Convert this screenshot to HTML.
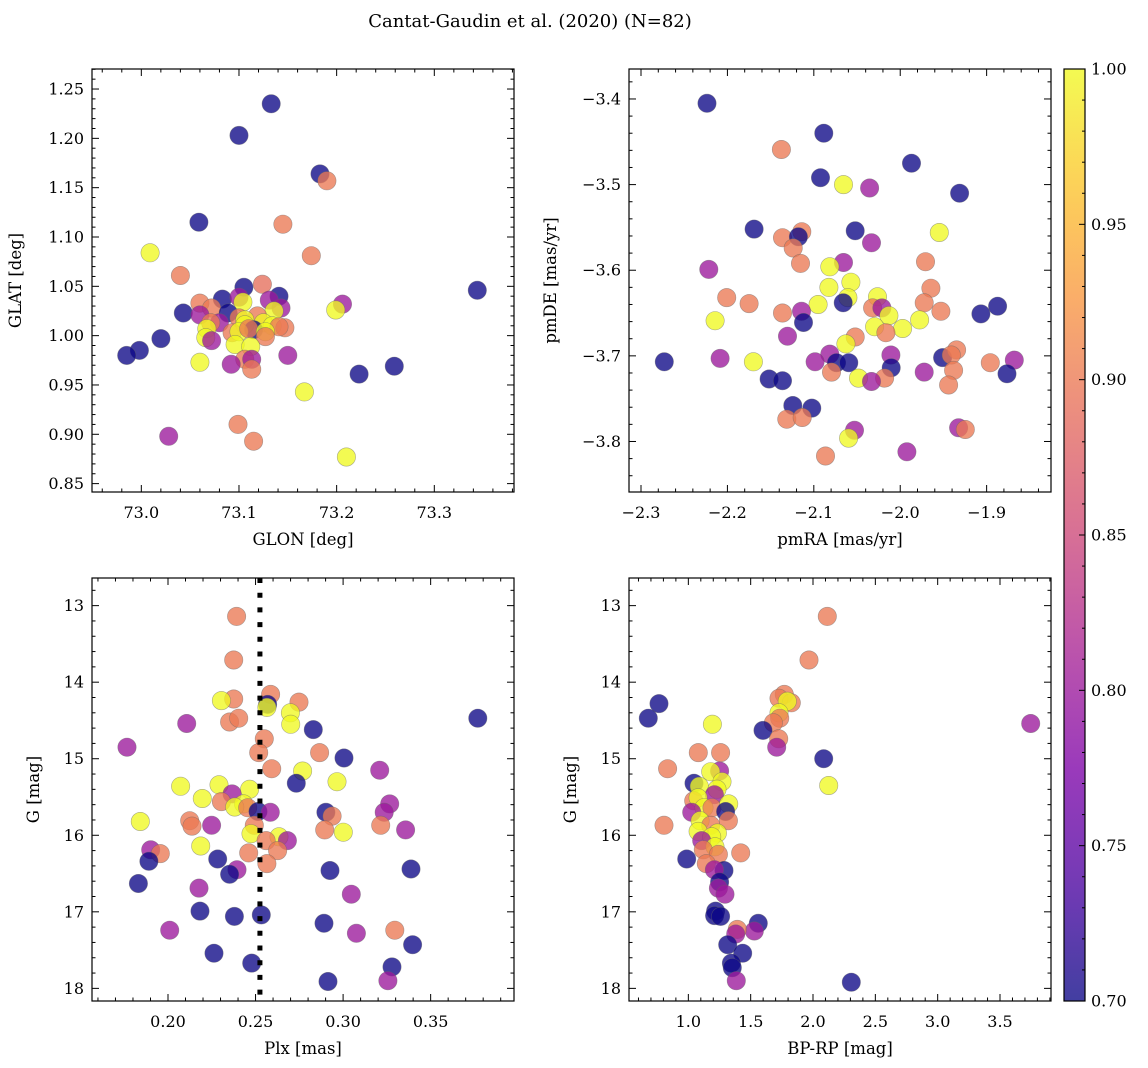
<!DOCTYPE html>
<html><head><meta charset="utf-8"><title>Cantat-Gaudin et al. (2020)</title>
<style>
html,body{margin:0;padding:0;background:#fff;}
svg{display:block;font-family:"DejaVu Serif","Liberation Serif",serif;}
</style></head>
<body>
<svg id="fig" width="1148" height="1068" viewBox="0 0 1148 1068" xmlns="http://www.w3.org/2000/svg">
<text x="530" y="27" text-anchor="middle" font-size="18">Cantat-Gaudin et al. (2020) (N=82)</text>
</svg>
<script>
// ---------- data ----------
const glon = [73.133,73.100,73.183,73.190,73.059,73.145,73.009,73.174,73.040,73.344,73.105,73.124,73.141,73.083,73.100,73.104,73.131,73.206,73.199,73.060,73.072,73.143,73.136,73.043,73.060,73.089,73.080,73.100,73.119,73.106,73.106,73.071,73.067,73.125,73.134,73.147,73.141,73.115,73.093,73.100,73.110,73.127,73.127,73.066,73.072,73.020,72.998,72.985,73.096,73.112,73.106,73.113,73.113,73.150,73.092,73.060,73.259,73.223,73.167,73.099,73.115,73.028,73.210];
const glat = [1.235,1.203,1.164,1.157,1.115,1.113,1.084,1.081,1.061,1.046,1.049,1.052,1.040,1.037,1.039,1.034,1.036,1.032,1.026,1.033,1.028,1.028,1.025,1.023,1.021,1.023,1.013,1.018,1.020,1.016,1.011,1.013,1.007,1.013,1.010,1.008,1.009,1.006,1.003,1.004,1.007,1.004,0.999,0.998,0.995,0.997,0.985,0.980,0.991,0.989,0.976,0.976,0.966,0.980,0.971,0.973,0.969,0.961,0.943,0.910,0.893,0.898,0.877];
const probTL = [0.7,0.7,0.7,0.9,0.7,0.9,1,0.9,0.9,0.7,0.7,0.89,0.7,0.7,0.8,1,0.8,0.8,1,0.9,0.9,0.8,1,0.7,0.8,0.7,0.8,0.9,0.9,1,1,0.9,1,1,1,0.9,0.9,0.7,0.9,1,0.9,1,0.9,1,0.8,0.7,0.7,0.7,1,1,0.9,0.8,0.9,0.8,0.8,1,0.7,0.7,1,0.9,0.9,0.8,1];

const pmra = [-2.2236,-2.0884,-2.1375,-1.9869,-2.0923,-2.0656,-2.0355,-1.9313,-2.1691,-2.1139,-2.1363,-2.1178,-2.0521,-1.9548,-2.0332,-2.1239,-2.1154,-2.0656,-2.0815,-1.9707,-2.2216,-2.0571,-2.0826,-1.9645,-2.2008,-2.0606,-2.0660,-2.1749,-2.0950,-2.0263,-2.0320,-2.0212,-1.9722,-1.8873,-2.1363,-2.1143,-1.9529,-2.0131,-1.9066,-2.2143,-2.1120,-1.9776,-2.0297,-1.9973,-2.0166,-2.1305,-2.0521,-2.0629,-2.2085,-2.0815,-2.0108,-1.9510,-1.9347,-1.9409,-2.2730,-2.1699,-2.0985,-2.0737,-2.0595,-1.8680,-1.8958,-2.0104,-2.0795,-1.9722,-1.9382,-1.8764,-2.1517,-2.1363,-2.0483,-2.0181,-2.0332,-1.9440,-2.1243,-2.1023,-2.1313,-2.1135,-2.0529,-2.0598,-1.9324,-1.9247,-1.9923,-2.0865];
const pmde = [-3.405,-3.440,-3.459,-3.475,-3.492,-3.500,-3.504,-3.510,-3.552,-3.555,-3.562,-3.561,-3.554,-3.556,-3.568,-3.574,-3.592,-3.591,-3.596,-3.590,-3.599,-3.614,-3.620,-3.621,-3.632,-3.632,-3.638,-3.639,-3.640,-3.631,-3.644,-3.644,-3.638,-3.642,-3.650,-3.648,-3.648,-3.653,-3.651,-3.659,-3.661,-3.658,-3.666,-3.668,-3.673,-3.677,-3.678,-3.686,-3.703,-3.698,-3.699,-3.702,-3.693,-3.699,-3.707,-3.707,-3.707,-3.708,-3.708,-3.705,-3.708,-3.714,-3.719,-3.719,-3.717,-3.721,-3.727,-3.729,-3.726,-3.726,-3.730,-3.734,-3.758,-3.761,-3.774,-3.772,-3.787,-3.796,-3.784,-3.786,-3.812,-3.817];
const probTR = [0.7,0.7,0.9,0.7,0.7,1,0.8,0.7,0.7,0.9,0.9,0.7,0.7,1,0.8,0.9,0.9,0.8,1,0.9,0.8,1,1,0.9,0.9,1,0.7,0.9,1,1,0.9,0.8,0.9,0.7,0.9,0.8,0.9,1,0.7,1,0.7,1,1,1,0.9,0.8,0.9,1,0.8,0.8,0.8,0.7,0.9,0.9,0.7,1,0.8,0.7,0.7,0.8,0.9,0.7,0.9,0.8,0.9,0.7,0.7,0.7,1,0.9,0.8,0.9,0.7,0.7,0.9,0.9,0.8,1,0.8,0.9,0.8,0.9];

const plx = [0.2392,0.2375,0.2375,0.2305,0.2586,0.2569,0.2565,0.2748,0.2699,0.2701,0.3769,0.2107,0.2352,0.2404,0.2830,0.1766,0.2550,0.2518,0.2866,0.3005,0.2592,0.2769,0.3209,0.2965,0.2733,0.2072,0.2291,0.2466,0.2366,0.2196,0.2305,0.2432,0.2381,0.2455,0.2514,0.2584,0.3266,0.3235,0.2902,0.2937,0.1842,0.2124,0.2137,0.2249,0.2493,0.3215,0.3357,0.2895,0.3001,0.2474,0.2634,0.2560,0.2682,0.2187,0.1901,0.1956,0.2626,0.2461,0.2284,0.1891,0.2565,0.2394,0.2352,0.2925,0.3388,0.1831,0.2177,0.3047,0.2183,0.2379,0.2533,0.2891,0.2010,0.3076,0.3295,0.3397,0.2263,0.2478,0.3279,0.2914,0.3256];
const gmagBL = [13.14,13.71,14.22,14.24,14.16,14.29,14.33,14.26,14.40,14.55,14.47,14.54,14.52,14.47,14.62,14.85,14.74,14.92,14.92,14.99,15.13,15.16,15.15,15.30,15.32,15.36,15.34,15.40,15.46,15.52,15.56,15.59,15.63,15.64,15.69,15.70,15.59,15.70,15.70,15.75,15.82,15.81,15.88,15.87,15.87,15.87,15.93,15.93,15.96,15.98,16.02,16.07,16.07,16.14,16.19,16.24,16.20,16.23,16.31,16.34,16.37,16.45,16.51,16.46,16.44,16.63,16.69,16.77,16.99,17.06,17.04,17.15,17.24,17.28,17.24,17.43,17.54,17.67,17.72,17.91,17.90];
const probBL = [0.9,0.9,0.9,1,0.9,0.7,1,0.9,1,1,0.7,0.8,0.9,0.9,0.7,0.8,0.9,0.9,0.9,0.7,0.9,1,0.8,1,0.7,1,1,1,0.8,1,0.9,1,1,0.9,0.7,0.8,0.8,0.8,0.7,0.9,1,0.9,0.9,0.8,0.9,0.9,0.8,0.9,1,1,1,0.9,0.8,1,0.8,0.9,0.9,0.9,0.7,0.7,0.9,0.8,0.7,0.7,0.7,0.7,0.8,0.8,0.7,0.7,0.7,0.7,0.8,0.8,0.9,0.7,0.7,0.7,0.7,0.7,0.8];
const plxRef = 0.2525;

const bprp = [2.115,1.968,1.770,1.727,1.826,1.794,0.765,0.679,3.746,1.727,1.733,1.682,1.193,1.599,1.725,1.709,1.080,1.259,2.086,0.834,1.251,1.179,2.126,1.270,1.045,1.088,1.230,1.209,1.043,1.078,1.126,1.190,1.324,1.299,1.027,1.094,1.321,0.805,1.179,1.233,1.078,1.187,1.107,1.214,1.120,1.241,1.420,0.987,1.144,1.286,1.209,1.251,1.241,1.294,1.219,1.211,1.259,1.561,1.529,1.393,1.380,1.316,1.436,1.345,1.353,1.385,2.307];
const gmagBR = [13.14,13.71,14.16,14.21,14.27,14.25,14.28,14.47,14.54,14.40,14.47,14.53,14.55,14.63,14.74,14.85,14.92,14.92,15.00,15.13,15.16,15.17,15.35,15.30,15.32,15.36,15.40,15.47,15.55,15.51,15.64,15.64,15.59,15.69,15.70,15.81,15.81,15.87,15.87,15.97,15.95,16.02,16.07,16.15,16.19,16.25,16.23,16.31,16.37,16.46,16.45,16.61,16.69,16.77,16.99,17.05,17.06,17.15,17.25,17.23,17.29,17.43,17.54,17.67,17.73,17.90,17.92];
const probBR = [0.9,0.9,0.9,0.9,0.9,1,0.7,0.7,0.8,1,0.9,0.9,1,0.7,0.9,0.8,0.9,0.9,0.7,0.9,0.8,1,1,1,0.7,1,1,0.8,0.9,1,1,0.9,1,0.7,0.8,1,0.9,0.9,0.9,1,1,1,0.8,1,0.9,0.9,0.9,0.7,0.9,0.7,0.8,0.7,0.8,0.8,0.7,0.7,0.7,0.7,0.8,0.9,0.8,0.7,0.7,0.7,0.7,0.8,0.7];

const tlXTicks = ["73.0","73.1","73.2","73.3"];
const tlYTicks = ["0.85","0.90","0.95","1.00","1.05","1.10","1.15","1.20","1.25"];
const trXTicks = ["-2.3","-2.2","-2.1","-2.0","-1.9"];
const trYTicks = ["-3.8","-3.7","-3.6","-3.5","-3.4"];
const blXTicks = ["0.20","0.25","0.30","0.35"];
const gTicks = ["13","14","15","16","17","18"];
const brXTicks = ["1.0","1.5","2.0","2.5","3.0","3.5"];
const cbTicks = ["0.70","0.75","0.80","0.85","0.90","0.95","1.00"];

// ---------- drawing ----------
const NS = "http://www.w3.org/2000/svg";
const svg = document.getElementById('fig');
function el(tag, attrs, parent){
  const e = document.createElementNS(NS, tag);
  for (const k in attrs) e.setAttribute(k, attrs[k]);
  (parent||svg).appendChild(e);
  return e;
}
const stops = [[0,[13,8,135]],[0.125,[76,2,161]],[0.25,[126,3,168]],[0.375,[169,35,149]],[0.5,[204,71,120]],[0.625,[229,107,93]],[0.75,[248,149,64]],[0.875,[253,195,40]],[1,[240,249,33]]];
function plasma(t){
  t = Math.max(0, Math.min(1, t));
  for (let i=0;i<stops.length-1;i++){
    const a=stops[i], b=stops[i+1];
    if (t<=b[0]){
      const f=(t-a[0])/(b[0]-a[0]);
      const c=a[1].map((v,j)=>Math.round(v+(b[1][j]-v)*f));
      return `rgb(${c[0]},${c[1]},${c[2]})`;
    }
  }
  return 'rgb(240,249,33)';
}
const cmin=0.7, cmax=1.0;

function panel(cfg){
  const {name,x0,y0,w,h,xmin,xmax,ymin,ymax,yInvert} = cfg;
  const g = el('g', {});
  
  
  const sx = v => x0 + (v - xmin)/(xmax - xmin)*w;
  const sy = v => yInvert ? y0 + (v - ymin)/(ymax - ymin)*h : y0 + h - (v - ymin)/(ymax - ymin)*h;
  const pg = el('g', {}, g);
  
  
  for (let i=0;i<cfg.xs.length;i++){
    const c = el('circle', {cx:sx(cfg.xs[i]).toFixed(1), cy:sy(cfg.ys[i]).toFixed(1), r:9.2,
      fill:plasma((cfg.cs[i]-cmin)/(cmax-cmin)), 'fill-opacity':0.78, stroke:'#666', 'stroke-opacity':0.55, 'stroke-width':0.6}, pg);
    
    
  }
  if (cfg.vline !== undefined){
    const l = el('line', {x1:sx(cfg.vline), x2:sx(cfg.vline), y1:y0, y2:y0+h, stroke:'#000', 'stroke-width':5, 'stroke-dasharray':'5 9.7'}, g);
    
    
  }
  const tg = el('g', {stroke:'#000', 'stroke-width':1}, g);
  const eps=1e-9;
  for (let v=Math.ceil(xmin/cfg.xMinor-eps)*cfg.xMinor; v<=xmax+eps; v+=cfg.xMinor){
    const X=sx(v); const major = Math.abs(v/cfg.xMajor - Math.round(v/cfg.xMajor))<1e-4;
    const L = major?7:3.5;
    el('line',{x1:X,x2:X,y1:y0+h,y2:y0+h-L},tg); el('line',{x1:X,x2:X,y1:y0,y2:y0+L},tg);
  }
  for (let v=Math.ceil(ymin/cfg.yMinor-eps)*cfg.yMinor; v<=ymax+eps; v+=cfg.yMinor){
    const Y=sy(v); const major = Math.abs(v/cfg.yMajor - Math.round(v/cfg.yMajor))<1e-4;
    const L = major?7:3.5;
    el('line',{x1:x0,x2:x0+L,y1:Y,y2:Y},tg); el('line',{x1:x0+w,x2:x0+w-L,y1:Y,y2:Y},tg);
  }
  cfg.xTicks.forEach(s=>{
    const t = el('text',{x:sx(parseFloat(s)), y:y0+h+26, 'text-anchor':'middle', 'font-size':16}, g);
    t.textContent = s.replace('-','\u2212');
    
    
  });
  cfg.yTicks.forEach(s=>{
    const t = el('text',{x:x0-8, y:sy(parseFloat(s))+5.5, 'text-anchor':'end', 'font-size':16}, g);
    t.textContent = s.replace('-','\u2212');
    
    
  });
  const fr = el('rect',{x:x0,y:y0,width:w,height:h,fill:'none',stroke:'#000','stroke-width':1.2}, g);
  
  
  const xl = el('text',{x:x0+w/2, y:y0+h+53, 'text-anchor':'middle','font-size':16.5}, g);
  xl.textContent = cfg.xLabel;
  
  
  const yl = el('text',{x:cfg.yLabelX, y:y0+h/2, 'text-anchor':'middle','font-size':16.5, transform:`rotate(-90 ${cfg.yLabelX} ${y0+h/2})`}, g);
  yl.textContent = cfg.yLabel;
  
  
}

panel({name:'glon-glat-panel',x0:92,y0:69,w:422,h:423,xmin:72.9495,xmax:73.3816,ymin:0.8415,ymax:1.2703,
  xs:glon,ys:glat,cs:probTL,xMinor:0.02,xMajor:0.1,yMinor:0.01,yMajor:0.05,xTicks:tlXTicks,yTicks:tlYTicks,
  xLabel:'GLON [deg]',yLabel:'GLAT [deg]',yLabelX:21});
panel({name:'proper-motion-panel',x0:629,y0:69,w:422,h:423,xmin:-2.3139,xmax:-1.8255,ymin:-3.859,ymax:-3.365,
  xs:pmra,ys:pmde,cs:probTR,xMinor:0.02,xMajor:0.1,yMinor:0.02,yMajor:0.1,xTicks:trXTicks,yTicks:trYTicks,
  xLabel:'pmRA [mas/yr]',yLabel:'pmDE [mas/yr]',yLabelX:556});
panel({name:'parallax-mag-panel',x0:92,y0:578,w:422,h:423,xmin:0.1566,xmax:0.3976,ymin:12.639,ymax:18.165,yInvert:true,
  xs:plx,ys:gmagBL,cs:probBL,xMinor:0.01,xMajor:0.05,yMinor:0.2,yMajor:1,xTicks:blXTicks,yTicks:gTicks,vline:plxRef,
  xLabel:'Plx [mas]',yLabel:'G [mag]',yLabelX:39});
panel({name:'cmd-panel',x0:629,y0:578,w:422,h:423,xmin:0.524,xmax:3.909,ymin:12.639,ymax:18.165,yInvert:true,
  xs:bprp,ys:gmagBR,cs:probBR,xMinor:0.1,xMajor:0.5,yMinor:0.2,yMajor:1,xTicks:brXTicks,yTicks:gTicks,
  xLabel:'BP-RP [mag]',yLabel:'G [mag]',yLabelX:576});

const cb = el('g',{});


const defs = el('defs',{});
const grad = el('linearGradient',{id:'plasmaGrad',x1:0,y1:1,x2:0,y2:0},defs);
for (let i=0;i<=20;i++){ el('stop',{offset:i/20,'stop-color':plasma(i/20)},grad); }
const cbx=1064, cby=69, cbw=21, cbh=932;
el('rect',{x:cbx,y:cby,width:cbw,height:cbh,fill:'url(#plasmaGrad)','fill-opacity':0.78},cb);
el('rect',{x:cbx,y:cby,width:cbw,height:cbh,fill:'none',stroke:'#000','stroke-width':1.2},cb);
const cy = v => cby + cbh - (v-cmin)/(cmax-cmin)*cbh;
for (let k=0;k<=30;k++){
  const v = cmin + k*0.01; const major = k%5===0;
  el('line',{x1:cbx+cbw,x2:cbx+cbw-(major?6:3),y1:cy(v),y2:cy(v),stroke:'#000','stroke-width':1},cb);
}
cbTicks.forEach(s=>{
  const t = el('text',{x:cbx+cbw+6,y:cy(parseFloat(s))+5.5,'font-size':16},cb);
  t.textContent = s;
  
  
});
</script>
</body></html>
